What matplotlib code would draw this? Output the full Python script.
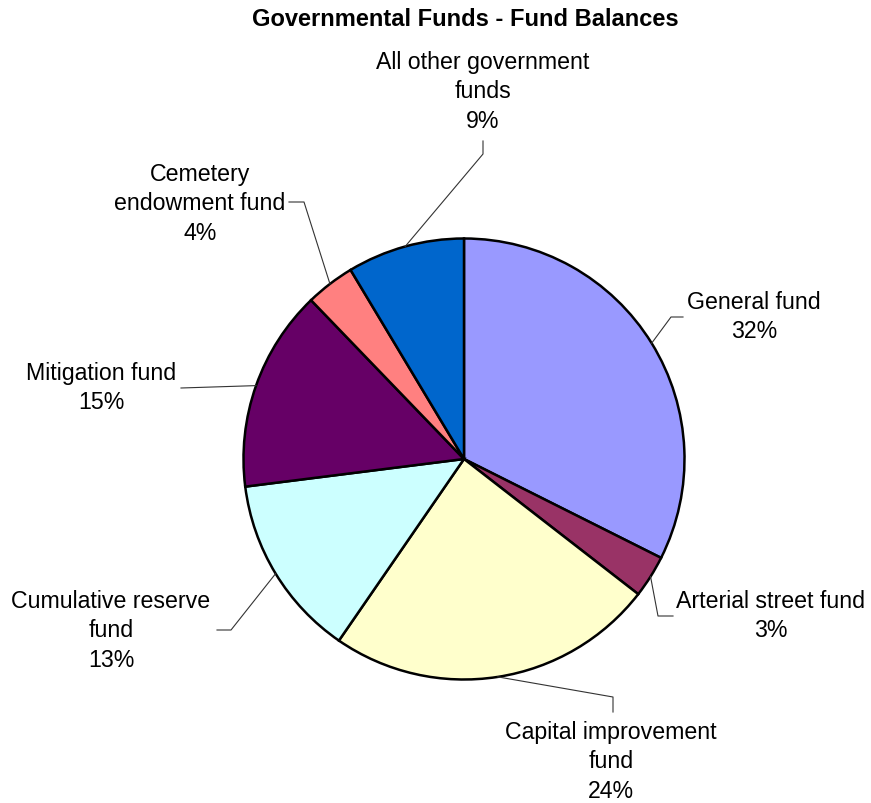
import numpy as np
import matplotlib
matplotlib.use('Agg')
import matplotlib.pyplot as plt

plt.rcParams['font.family'] = ['Liberation Sans', 'DejaVu Sans']

# Fund balances (share of total)
funds = ['General fund', 'Arterial street fund', 'Capital improvement\nfund',
         'Cumulative reserve\nfund', 'Mitigation fund', 'Cemetery\nendowment fund',
         'All other government\nfunds']
shares = [32.4, 3.1, 24.1, 13.4, 14.8, 3.6, 8.6]
colors = ['#9999FF', '#993366', '#FFFFCC', '#CCFFFF', '#660066', '#FF8080', '#0066CC']

# label block centres and leader elbows, in image pixels (y down)
label_pos = [(754, 317), (771, 616), (611, 762), (111, 631), (101, 388), (200, 204), (483, 92)]
elbows = [
    [(671, 318), (683, 318)],
    [(658, 617), (673, 617)],
    [(613, 698), (613, 713)],
    [(231, 631), (217, 631)],
    [(181, 389)],
    [(304, 203), (289, 203)],
    [(483, 155), (483, 142)],
]

W, H = 871, 804
fig = plt.figure(figsize=(W / 100, H / 100), dpi=100)
ax = fig.add_axes([0, 0, 1, 1])

cx, cy, r = 464, H - 460, 220.5
wedges, _ = ax.pie(shares, colors=colors, startangle=90, counterclock=False,
                   center=(cx, cy), radius=r,
                   wedgeprops=dict(edgecolor='black', linewidth=1.8))
ax.set_xlim(0, W)
ax.set_ylim(0, H)
ax.set_aspect('equal')
ax.axis('off')

total = sum(shares)
for w, name, val, (lx, ly), pts in zip(wedges, funds, shares, label_pos, elbows):
    mid = np.deg2rad((w.theta1 + w.theta2) / 2)
    xs = [cx + r * np.cos(mid)] + [p[0] for p in pts]
    ys = [cy + r * np.sin(mid)] + [H - p[1] for p in pts]
    ax.plot(xs, ys, color='#333333', lw=0.8)
    pct = round(val / total * 100)
    ax.text(lx, H - ly, f'{name}\n{pct}%', ha='center', va='center',
            fontsize=16.7, linespacing=1.35, color='black')

fig.text(465 / W, 1 - 19 / H, 'Governmental Funds - Fund Balances',
         ha='center', va='center', fontsize=17, fontweight='bold')

fig.savefig('out.png', dpi=100, facecolor='white')
